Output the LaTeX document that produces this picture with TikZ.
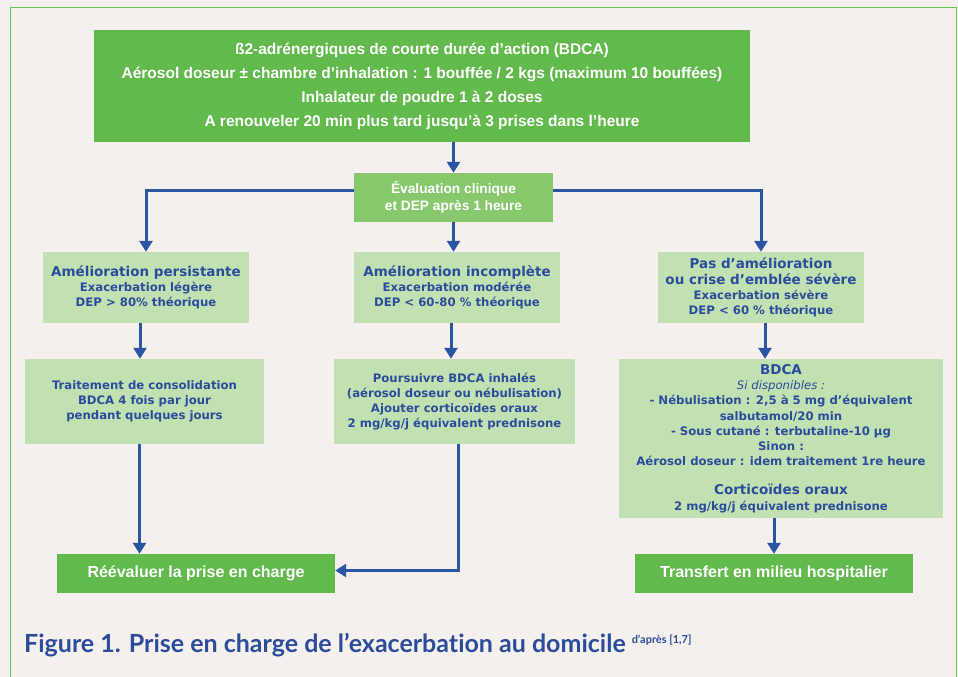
\documentclass[tikz,border=0pt]{standalone}
\usepackage{fontspec}
\setmainfont{Liberation Sans}
\newfontfamily\dvs{DejaVu Sans}
\newfontfamily\capfont[Ligatures=NoCommon]{Lato}
\usetikzlibrary{arrows.meta}
\definecolor{boxgreen}{HTML}{62BA4C}
\definecolor{evalgreen}{HTML}{87C86C}
\definecolor{palegreen}{HTML}{C2E1B2}
\definecolor{textblue}{HTML}{2B4C9B}
\definecolor{arrowblue}{HTML}{2A55A3}
\definecolor{pagebg}{HTML}{F5F0EE}
\definecolor{framegreen}{HTML}{6CC35A}
\newcommand\boxtitle[1]{{\fontsize{13.5}{15}\selectfont #1}}
\begin{document}
\begin{tikzpicture}[x=1pt,y=-1pt,
  darkbox/.style={fill=boxgreen,text=white,align=center,inner sep=0pt,
    font=\bfseries\fontsize{15.5}{24}\selectfont},
  evalbox/.style={darkbox,fill=evalgreen,font=\bfseries\fontsize{13.7}{17}\selectfont},
  endbox/.style={darkbox,minimum width=278,minimum height=39,font=\bfseries\fontsize{16}{18}\selectfont},
  palebox/.style={fill=palegreen,text=textblue,align=center,inner sep=0pt,
    font=\dvs\bfseries\fontsize{11.7}{15.2}\selectfont},
  arr/.style={draw=arrowblue,line width=3pt,-{Triangle[width=13pt,length=11pt]}}]
  \path[use as bounding box,fill=pagebg] (0,0) rectangle (958,677);
  \draw[framegreen,line width=1pt] (10,680)--(10,8)--(956,8)--(956,680);
  % first treatment and evaluation
  \node[darkbox,minimum width=656,minimum height=112] (bdca) at (422,86)
    {ß2-adrénergiques de courte durée d’action (BDCA)\\
     Aérosol doseur ± chambre d’inhalation : 1 bouffée / 2 kgs (maximum 10 bouffées)\\
     Inhalateur de poudre 1 à 2 doses\\
     A renouveler 20 min plus tard jusqu’à 3 prises dans l’heure};
  \node[evalbox,minimum width=199,minimum height=49] (eval) at (453.5,197.5)
    {Évaluation clinique\\et DEP après 1 heure};
  % three outcomes
  \node[palebox,minimum width=206,minimum height=71] (legere) at (146,287.5)
    {\boxtitle{Amélioration persistante}\\Exacerbation légère\\DEP > 80\% théorique};
  \node[palebox,minimum width=206,minimum height=71] (moderee) at (457,287.5)
    {\boxtitle{Amélioration incomplète}\\Exacerbation modérée\\DEP < 60-80 \% théorique};
  \node[palebox,minimum width=206,minimum height=71] (severe) at (761,287.5)
    {\boxtitle{Pas d’amélioration}\\\boxtitle{ou crise d’emblée sévère}\\Exacerbation sévère\\DEP < 60 \% théorique};
  % treatments
  \node[palebox,minimum width=239,minimum height=85] (consol) at (144.5,401.5)
    {Traitement de consolidation\\BDCA 4 fois par jour\\pendant quelques jours};
  \node[palebox,minimum width=241,minimum height=85] (poursuivre) at (454.5,401.5)
    {Poursuivre BDCA inhalés\\(aérosol doseur ou nébulisation)\\Ajouter corticoïdes oraux\\2 mg/kg/j équivalent prednisone};
  \node[palebox,minimum width=324,minimum height=159] (urgence) at (781,438.5)
    {\boxtitle{BDCA}\\{\mdseries\itshape Si disponibles :}\\- Nébulisation : 2,5 à 5 mg d’équivalent\\salbutamol/20 min\\
     - Sous cutané : terbutaline-10 µg\\Sinon :\\Aérosol doseur : idem traitement 1re heure\\[14pt]
     \boxtitle{Corticoïdes oraux}\\2 mg/kg/j équivalent prednisone};
  % outcomes
  \node[endbox] (reeval) at (196,573.5) {Réévaluer la prise en charge};
  \node[endbox] (transfert) at (774,573.5) {Transfert en milieu hospitalier};
  % connectors
  \draw[arr] (eval.north |- bdca.south) -- (eval.north);
  \draw[arr] ([yshift=7pt]eval.west) -| (legere.north);
  \draw[arr] ([yshift=7pt]eval.east) -| (severe.north);
  \draw[arr] (eval.south) -- (eval.south |- moderee.north);
  \draw[arr] ([xshift=-6pt]legere.south) -- ([xshift=-6pt]legere.south |- consol.north);
  \draw[arr] ([xshift=-6pt]moderee.south) -- ([xshift=-6pt]moderee.south |- poursuivre.north);
  \draw[arr] ([xshift=4pt]severe.south) -- ([xshift=4pt]severe.south |- urgence.north);
  \draw[arr] ([xshift=-5pt]consol.south) -- ([xshift=-5pt]consol.south |- reeval.north);
  \draw[arr] ([xshift=4pt]poursuivre.south) |- ([yshift=3pt]reeval.east);
  \draw[arr] (transfert.north |- urgence.south) -- (transfert.north);
  % caption
  \node[anchor=base west,inner sep=0pt,text=textblue,font=\capfont\bfseries\fontsize{25}{28}\selectfont] (caption) at (24,652)
    {Figure 1. Prise en charge de l’exacerbation au domicile \raisebox{9pt}{\fontsize{11}{12}\selectfont d’après [1,7]}};
\end{tikzpicture}
\end{document}
